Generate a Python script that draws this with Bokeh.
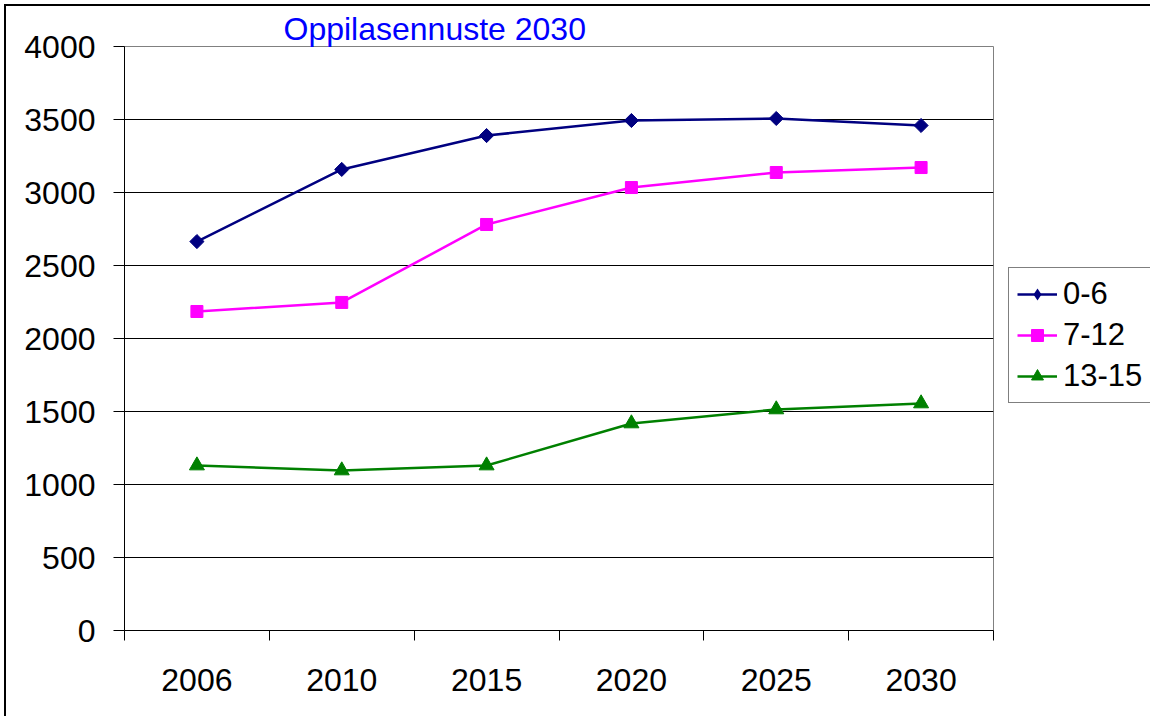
from bokeh.plotting import figure
from bokeh.models import Range1d, FixedTicker, Legend, LegendItem, Title
from bokeh.embed import file_html
from bokeh.resources import INLINE
import numpy as np

years = ["2006", "2010", "2015", "2020", "2025", "2030"]
s_0_6 = [2664, 3158, 3390, 3493, 3507, 3459]
s_7_12 = [2185, 2247, 2781, 3034, 3137, 3171]
s_13_15 = [1130, 1096, 1130, 1418, 1514, 1555]
y_ticks = [0, 500, 1000, 1500, 2000, 2500, 3000, 3500, 4000]
title_text = "Oppilasennuste 2030"

FONT = "Liberation Sans"
xs = [i + 0.5 for i in range(len(years))]

p = figure(frame_width=869, frame_height=584, output_backend="svg", toolbar_location=None,
           x_range=Range1d(0, len(years)), y_range=Range1d(0, 4000),
           min_border_left=118, min_border_top=40, min_border_bottom=86, min_border_right=157)
p.styles = {"margin-left": "4px", "margin-top": "4px",
            "border-left": "2px solid #000000", "border-top": "2px solid #000000"}

t = Title(text=title_text, align="left", offset=159, standoff=0,
          text_font=FONT, text_font_size="32px", text_font_style="normal",
          text_color="#0000FF")
p.add_layout(t, "above")

p.outline_line_color = "#808080"
p.outline_line_width = 1

# y axis
p.yaxis.ticker = FixedTicker(ticks=y_ticks)
p.yaxis.major_label_text_font = FONT
p.yaxis.major_label_text_font_size = "32px"
p.yaxis.major_label_text_color = "#000000"
p.yaxis.major_tick_out = 11
p.yaxis.major_tick_in = 0
p.yaxis.minor_tick_out = 0
p.yaxis.minor_tick_in = 0
p.yaxis.major_label_standoff = 18
p.yaxis.axis_line_color = "#000000"
p.yaxis.major_tick_line_color = "#000000"

# x axis: labels at category centers, ticks at boundaries
p.xaxis.ticker = FixedTicker(ticks=xs, minor_ticks=list(range(len(years) + 1)))
p.xaxis.major_label_overrides = {x: y for x, y in zip(xs, years)}
p.xaxis.major_label_text_font = FONT
p.xaxis.major_label_text_font_size = "32px"
p.xaxis.major_label_text_color = "#000000"
p.xaxis.major_tick_out = 0
p.xaxis.major_tick_in = 0
p.xaxis.minor_tick_out = 10
p.xaxis.minor_tick_in = 0
p.xaxis.minor_tick_line_color = "#000000"
p.xaxis.major_label_standoff = 28
p.xaxis.axis_line_color = "#000000"

p.xgrid.visible = False
p.ygrid.ticker = FixedTicker(ticks=y_ticks)
p.ygrid.grid_line_color = "#000000"
p.ygrid.grid_line_width = 1

c1, c2, c3 = "#000080", "#FF00FF", "#008000"
LW = 2.5

r1l = p.line(xs, s_0_6, line_color=c1, line_width=LW)
p.scatter(xs, s_0_6, marker="square", size=10, angle=np.pi / 4,
          fill_color=c1, line_color=c1)
# zero-size diamond: only shows its shape in the legend
r1d = p.scatter(xs, s_0_6, marker="diamond", size=0, fill_color=c1, line_color=c1,
                line_width=0)
r2l = p.line(xs, s_7_12, line_color=c2, line_width=LW)
r2m = p.scatter(xs, s_7_12, marker="square", size=12, fill_color=c2, line_color=c2)
r3l = p.line(xs, s_13_15, line_color=c3, line_width=LW)
r3m = p.scatter(xs, s_13_15, marker="triangle", size=15, fill_color=c3, line_color=c3)

legend = Legend(items=[
    LegendItem(label="0-6", renderers=[r1l, r1d]),
    LegendItem(label="7-12", renderers=[r2l, r2m]),
    LegendItem(label="13-15", renderers=[r3l, r3m]),
], location=(15, 227))
legend.label_text_font = FONT
legend.label_text_font_size = "31px"
legend.label_text_color = "#000000"
legend.glyph_width = 40
legend.glyph_height = 30
legend.label_height = 35
legend.label_standoff = 6
legend.spacing = 5
legend.padding = 8
legend.margin = 0
legend.border_line_color = "#000000"
legend.border_line_width = 1
legend.background_fill_color = "#FFFFFF"
legend.background_fill_alpha = 1
p.add_layout(legend, "right")

open("out.html", "w").write(file_html(p, INLINE))
